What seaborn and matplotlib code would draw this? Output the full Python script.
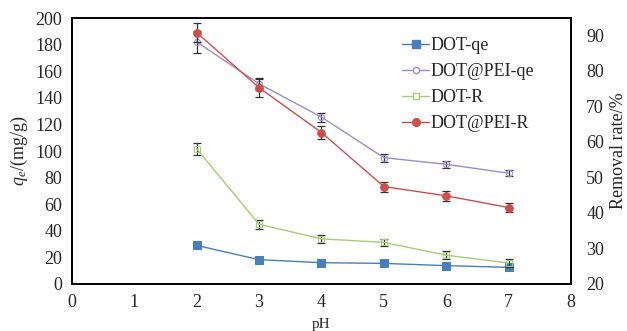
import numpy as np
import pandas as pd
import seaborn as sns
from matplotlib import pyplot as plt
from matplotlib.colors import to_rgba
from matplotlib.lines import Line2D

ph = [2, 3, 4, 5, 6, 7]
dot_qe = [29, 18.3, 16, 15.5, 13.8, 12.5]
dot_qe_err = [1, 1, 1, 1, 1, 1]
dotpei_qe = [182, 150.5, 125.5, 95, 90, 83.3]
dotpei_qe_err = [8, 4.3, 3.4, 3, 2.6, 2.3]
dot_r = [58.0, 36.8, 32.7, 31.7, 28.1, 25.9]
dot_r_err = [1.7, 1.2, 1.1, 1.0, 1.1, 1.0]
dotpei_r = [90.7, 75.2, 62.6, 47.4, 44.8, 41.5]
dotpei_r_err = [2.6, 2.5, 1.9, 1.4, 1.4, 1.3]

names = ["DOT-qe", "DOT@PEI-qe", "DOT-R", "DOT@PEI-R"]
colors = {"DOT-qe": "#4a7ebb", "DOT@PEI-qe": "#9b8ec8",
          "DOT-R": "#a6cc7a", "DOT@PEI-R": "#c9504f"}

sns.set_style("white")
plt.rcParams["font.family"] = ["Liberation Serif", "DejaVu Serif"]
plt.rcParams["mathtext.fontset"] = "custom"
plt.rcParams["mathtext.rm"] = "Liberation Serif"
plt.rcParams["mathtext.it"] = "Liberation Serif:italic"

left_df = pd.DataFrame({"pH": ph * 2, "val": dot_qe + dotpei_qe,
                        "series": ["DOT-qe"] * 6 + ["DOT@PEI-qe"] * 6})
right_df = pd.DataFrame({"pH": ph * 2, "val": dot_r + dotpei_r,
                         "series": ["DOT-R"] * 6 + ["DOT@PEI-R"] * 6})

fig = plt.figure(figsize=(6.27, 3.31), dpi=100)
ax = fig.add_axes([0.1148, 0.142, 0.7959, 0.8036])
ax2 = ax.twinx()

# error bars first so markers sit on top
for a, y, e in [(ax, dot_qe, dot_qe_err), (ax, dotpei_qe, dotpei_qe_err),
                (ax2, dot_r, dot_r_err), (ax2, dotpei_r, dotpei_r_err)]:
    a.errorbar(ph, y, yerr=e, fmt="none", ecolor="#333333", elinewidth=0.9,
               capsize=2.8, capthick=0.9, zorder=1)

sns.lineplot(data=left_df, x="pH", y="val", hue="series", style="series",
             palette=colors, markers={"DOT-qe": "s", "DOT@PEI-qe": "o"},
             dashes=False, ax=ax, legend=False, linewidth=1.0, markersize=5.5,
             zorder=3)
sns.lineplot(data=right_df, x="pH", y="val", hue="series", style="series",
             palette=colors, markers={"DOT-R": "s", "DOT@PEI-R": "o"},
             dashes=False, ax=ax2, legend=False, linewidth=1.0, markersize=5.5,
             zorder=3)

# hollow markers for two of the series
for a, nm, hollow in [(ax, "DOT@PEI-qe", True), (ax2, "DOT-R", True),
                      (ax, "DOT-qe", False), (ax2, "DOT@PEI-R", False)]:
    for ln in a.get_lines():
        if np.allclose(to_rgba(ln.get_color()), to_rgba(colors[nm])):
            ln.set_markeredgecolor(colors[nm])
            if hollow:
                ln.set_markerfacecolor("none")
                ln.set_markersize(4.5)

ax.set_xlim(0, 8)
ax.set_ylim(0, 200)
ax.set_xticks(range(0, 9))
ax.set_yticks(range(0, 201, 20))
ax2.set_ylim(20, 94.8)
ax2.set_yticks(range(20, 91, 10))

ax.set_xlabel("pH", fontsize=11, labelpad=5)
ax.set_ylabel("$q_e$/(mg/g)", fontsize=13, labelpad=4)
ax2.set_ylabel("Removal rate/%", fontsize=13, labelpad=4)
ax.tick_params(axis="both", length=0, labelsize=13, pad=7)
ax2.tick_params(axis="y", length=0, labelsize=13, pad=11)

for a in (ax, ax2):
    for s in a.spines.values():
        s.set_color("black")
        s.set_linewidth(1.2)

handles = [
    Line2D([], [], color=colors["DOT-qe"], marker="s", markersize=5.5, lw=1.0),
    Line2D([], [], color=colors["DOT@PEI-qe"], marker="o", markersize=4.5,
           markerfacecolor="white", lw=1.0),
    Line2D([], [], color=colors["DOT-R"], marker="s", markersize=4.5,
           markerfacecolor="white", lw=1.0),
    Line2D([], [], color=colors["DOT@PEI-R"], marker="o", markersize=5.5, lw=1.0),
]
ax.legend(handles, names, loc="upper left", bbox_to_anchor=(0.647, 0.955),
          frameon=False, fontsize=13, handlelength=1.5, handletextpad=0.1,
          labelspacing=0.5, borderaxespad=0)

fig.savefig("out.png", dpi=100)
